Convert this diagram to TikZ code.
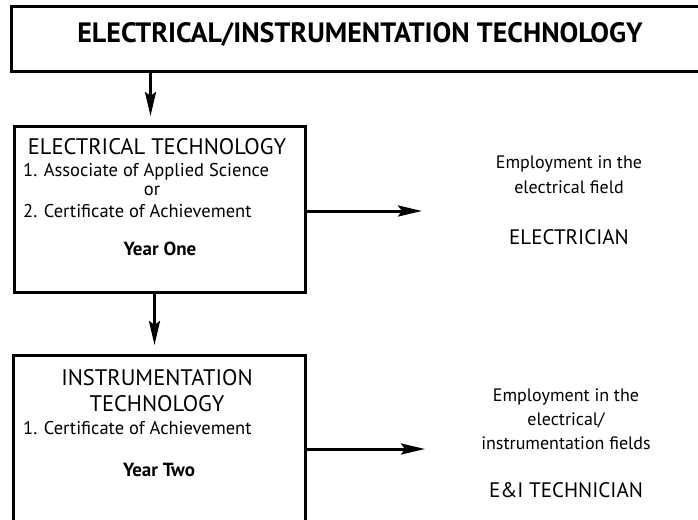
\documentclass[tikz,border=0pt]{standalone}
\usepackage{fontspec}
\setmainfont{PT Sans}
\usetikzlibrary{arrows.meta}
\begin{document}
\begin{tikzpicture}[x=1pt,y=-1pt,
  box/.style={draw,line width=3pt,rectangle,inner sep=0pt},
  arr/.style={line width=3pt,-{Stealth[length=24pt,width=11pt,inset=4pt]}},
  txt/.style={inner sep=0pt,anchor=base,font=\fontsize{18.5}{22}\selectfont},
  txtl/.style={txt,anchor=base west},
  rtxt/.style={inner sep=0pt,anchor=base,font=\fontsize{18}{22}\selectfont},
  rhead/.style={inner sep=0pt,anchor=base,font=\fontsize{21}{25}\selectfont},
  head/.style={inner sep=0pt,anchor=base,font=\fontsize{22.5}{26}\selectfont},
  bold/.style={inner sep=0pt,anchor=base,font=\fontsize{19}{22}\selectfont\bfseries},
  title/.style={inner sep=0pt,anchor=base,font=\fontsize{28}{32}\selectfont\bfseries}
  ]
\useasboundingbox (0,0) rectangle (698,519);
\clip (0,0) rectangle (698,519);
% boxes
\node[box,minimum width=720pt,minimum height=65pt,anchor=north west] (top) at (10,5) {};
\node[title] (ttl) at (360,42) {ELECTRICAL/INSTRUMENTATION TECHNOLOGY};
\node[box,minimum width=291pt,minimum height=166pt,anchor=north west] (b2) at (13,125) {};
\node[box,minimum width=292pt,minimum height=200pt,anchor=north west] (b3) at (12,354) {};
% box 2 text
\node[head] (b2h) at (157,154) {ELECTRICAL TECHNOLOGY};
\node[txtl] (b2a) at (23,176.5) {1. Associate of Applied Science};
\node[txt] (b2o) at (152,195) {or};
\node[txtl] (b2c) at (23,217.5) {2. Certificate of Achievement};
\node[bold] (b2y) at (160,255) {Year One};
% box 3 text
\node[head] (b3h1) at (157,385) {INSTRUMENTATION};
\node[head] (b3h2) at (157,411) {TECHNOLOGY};
\node[txtl] (b3a) at (23,434.5) {1. Certificate of Achievement};
\node[bold] (b3y) at (159,476) {Year Two};
% right texts
\node[rtxt] (e1a) at (569,168.5) {Employment in the};
\node[rtxt] (e1b) at (569,193.5) {electrical field};
\node[rhead] (e1c) at (569,244.5) {ELECTRICIAN};
\node[rtxt] (e2a) at (566,401.5) {Employment in the};
\node[rtxt] (e2b) at (566,425.5) {electrical/};
\node[rtxt] (e2c) at (566,449.5) {instrumentation fields};
\node[rhead] (e2d) at (566,497.5) {E\&I TECHNICIAN};
% connectors
\draw[arr,shorten >=9pt] ([xshift=-9.5pt]b2.north |- top.south) -- ([xshift=-9.5pt]b2.north);
\draw[arr,shorten >=9pt] ([xshift=-5pt]b3.north |- b2.south) -- ([xshift=-5pt]b3.north);
\coordinate (r1) at (422,211);
\coordinate (r2) at (425,449);
\draw[arr] (r1 -| b2.east) -- (r1);
\draw[arr] (r2 -| b3.east) -- (r2);
\end{tikzpicture}
\end{document}
